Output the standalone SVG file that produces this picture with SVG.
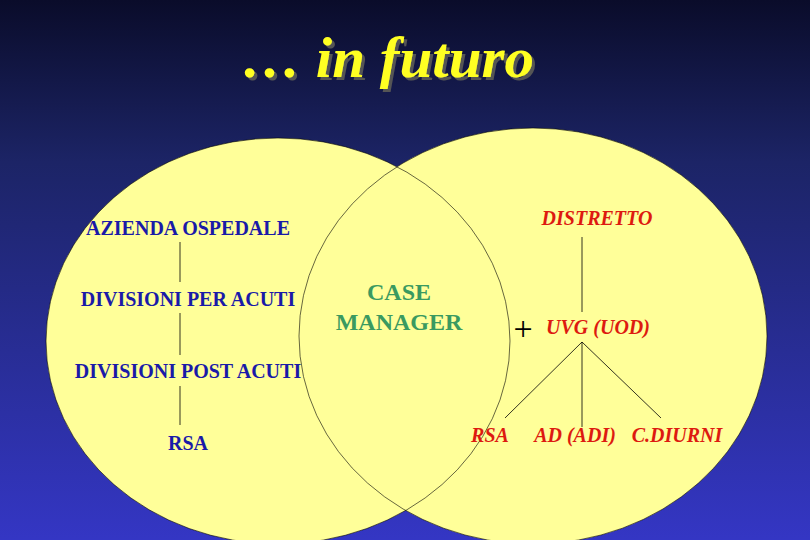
<svg xmlns="http://www.w3.org/2000/svg" width="810" height="540" viewBox="0 0 810 540">
<defs>
<linearGradient id="bg" x1="0" y1="0" x2="0" y2="1">
<stop offset="0" stop-color="#0a0c2a"/><stop offset="0.3" stop-color="#1c2466"/><stop offset="1" stop-color="#3436c4"/>
</linearGradient>
<filter id="sh" x="-10%" y="-20%" width="120%" height="140%">
<feDropShadow dx="3" dy="3" stdDeviation="0.5" flood-color="#555" flood-opacity="1"/>
</filter>
</defs>
<style>
.b{font-family:"Liberation Serif",serif;font-weight:bold;font-size:20px;fill:#1a1aa8}
.r{font-family:"Liberation Serif",serif;font-weight:bold;font-style:italic;font-size:20px;fill:#dd1a10}
.g{font-family:"Liberation Serif",serif;font-weight:bold;font-size:24px;fill:#3a9a60}
.ln{stroke:#000;stroke-width:0.8;fill:none}
</style>
<rect width="810" height="540" fill="url(#bg)"/>
<text x="388" y="77" text-anchor="middle" font-family="Liberation Serif,serif" font-weight="bold" font-style="italic" font-size="56" fill="#ffff20" filter="url(#sh)" textLength="292" lengthAdjust="spacingAndGlyphs">… in futuro</text>
<g id="ellipses">
<ellipse cx="278" cy="341" rx="232" ry="203" fill="#ffff99"/>
<ellipse cx="533" cy="336" rx="234" ry="208" fill="#ffff99"/>
<ellipse cx="278" cy="341" rx="232" ry="203" fill="none" stroke="#000" stroke-width="0.6"/>
<ellipse cx="533" cy="336" rx="234" ry="208" fill="none" stroke="#000" stroke-width="0.6"/>
</g>
<g id="connectors" class="ln">
<line x1="180" y1="242" x2="180" y2="282"/>
<line x1="180" y1="313" x2="180" y2="355"/>
<line x1="180" y1="386" x2="180" y2="425"/>
<line x1="582" y1="237" x2="582" y2="312"/>
<line x1="582" y1="342" x2="505" y2="418"/>
<line x1="582" y1="342" x2="582" y2="427"/>
<line x1="582" y1="342" x2="661" y2="418"/>
</g>
<g id="left">
<text class="b" x="188" y="235" text-anchor="middle">AZIENDA OSPEDALE</text>
<text class="b" x="188" y="306" text-anchor="middle">DIVISIONI PER ACUTI</text>
<text class="b" x="188" y="378" text-anchor="middle">DIVISIONI POST ACUTI</text>
<text class="b" x="188" y="450" text-anchor="middle">RSA</text>
</g>
<g id="center">
<text class="g" x="399" y="300" text-anchor="middle">CASE</text>
<text class="g" x="399" y="330" text-anchor="middle">MANAGER</text>
</g>
<g id="right">
<text class="r" x="597" y="225" text-anchor="middle">DISTRETTO</text>
<text x="523" y="340" text-anchor="middle" font-family="Liberation Serif,serif" font-size="34" fill="#000">+</text>
<text class="r" x="598" y="334" text-anchor="middle">UVG (UOD)</text>
<text class="r" x="490" y="442" text-anchor="middle">RSA</text>
<text class="r" x="575" y="442" text-anchor="middle">AD (ADI)</text>
<text class="r" x="677" y="442" text-anchor="middle">C.DIURNI</text>
</g>
</svg>
